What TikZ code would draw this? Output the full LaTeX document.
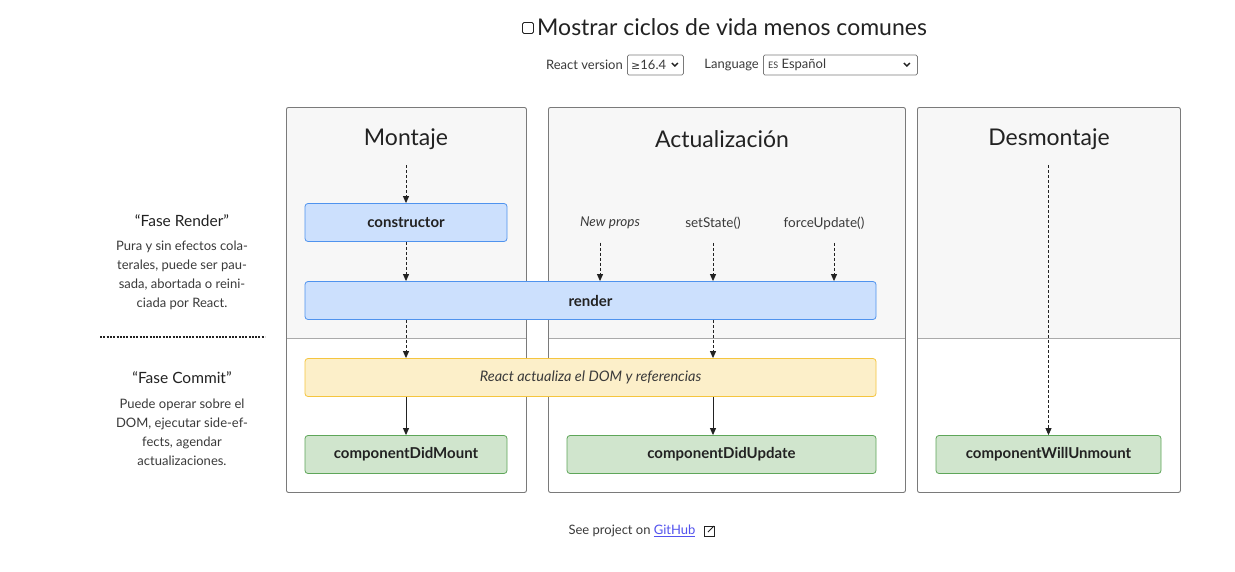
\documentclass[tikz,border=0pt]{standalone}
\usepackage{fontspec}
\setmainfont{Lato}
\newfontfamily\symfont{DejaVu Sans}
\usetikzlibrary{positioning,arrows.meta}

\definecolor{ink}{HTML}{222222}
\definecolor{softink}{HTML}{3a3a3a}
\definecolor{phasebg}{HTML}{F7F7F7}
\definecolor{phaseline}{HTML}{7A7A7A}
\definecolor{divline}{HTML}{AAAAAA}
\definecolor{renderbg}{HTML}{CCE0FD}
\definecolor{renderln}{HTML}{4F93EE}
\definecolor{commitbg}{HTML}{FCEFC9}
\definecolor{commitln}{HTML}{F5C53F}
\definecolor{mountbg}{HTML}{D0E5CD}
\definecolor{mountln}{HTML}{5EA659}
\definecolor{linkblue}{HTML}{5353EE}

\tikzset{
  phasebox/.style={draw=phaseline, line width=0.9pt, rounded corners=2pt, anchor=north west},
  heading/.style={font=\fontsize{23}{27}\selectfont, text=ink},
  rendbox/.style={draw=renderln, fill=renderbg, line width=0.8pt, rounded corners=3pt,
    minimum height=38, font=\bfseries\fontsize{15}{18}\selectfont, text=ink},
  commbox/.style={draw=commitln, fill=commitbg, line width=0.8pt, rounded corners=3pt,
    minimum height=38, font=\itshape\fontsize{14.5}{17}\selectfont, text=softink},
  donebox/.style={draw=mountln, fill=mountbg, line width=0.8pt, rounded corners=3pt,
    minimum height=38, font=\bfseries\fontsize{15}{18}\selectfont, text=ink},
  trigger/.style={font=\fontsize{13.5}{16}\selectfont, text=softink},
  sidehead/.style={font=\fontsize{15.5}{18}\selectfont, text=ink, align=center},
  sidetext/.style={font=\fontsize{13}{19}\selectfont, text=softink, align=center},
  small/.style={font=\fontsize{13}{15}\selectfont, text=softink},
  selbox/.style={draw=phaseline, line width=0.8pt, rounded corners=1.5pt, minimum height=20},
  flow/.style={-{Triangle[length=7pt,width=6pt]}, draw=ink, line width=0.9pt},
  lazy/.style={flow, dash pattern=on 3pt off 2pt},
  chev/.style={draw=ink, line width=1.4pt}
}

\begin{document}
\begin{tikzpicture}[x=1pt, y=-1pt]
  \useasboundingbox[fill=white] (0,0) rectangle (1235,571);

  % top controls
  \node[draw=ink, line width=0.8pt, rounded corners=1.5pt, minimum size=11, inner sep=0] (check) at (528,28) {};
  \node[heading, anchor=west, inner sep=0] (rare) at (537,27) {Mostrar ciclos de vida menos comunes};
  \node[small, anchor=east, inner sep=0] (version) at (623,65) {React version};
  \node[selbox, minimum width=56, anchor=west] (versel) at (627,65) {};
  \node[small, anchor=west, inner sep=0] at ([xshift=4]versel.west) {{\symfont\fontsize{11}{13}\selectfont ≥}16.4};
  \draw[chev] ([xshift=-12,yshift=2]versel.east) -- ++(3,3) -- ++(3,-3);
  \node[small, anchor=east, inner sep=0] (language) at (759,65) {Language};
  \node[selbox, minimum width=154, anchor=west] (langsel) at (763,65) {};
  \node[small, anchor=west, inner sep=0] at ([xshift=5]langsel.west) {{\fontsize{9}{11}\selectfont ES} Español};
  \draw[chev] ([xshift=-14,yshift=2]langsel.east) -- ++(3,3) -- ++(3,-3);

  % phase columns
  \foreach \l/\r/\nm in {286/526/mount,548/905/update,917/1180/unmount}{
    \fill[phasebg] (\l,107) rectangle (\r,338);
    \draw[divline, line width=0.8pt] (\l,338) -- (\r,338);
    \node[phasebox, minimum width=\r-\l, minimum height=385] (\nm) at (\l,107) {};
  }
  \node[heading] (mounttitle) at (406,139) {Montaje};
  \node[heading] (updatetitle) at (722,139) {Actualización};
  \node[heading] (unmounttitle) at (1049,139) {Desmontaje};

  % render phase
  \node[rendbox, minimum width=202] (ctor) at (406,222.5) {constructor};
  \node[rendbox, minimum width=571] (render) at (590.5,300.5) {render};
  \node[trigger, font=\itshape\fontsize{13.5}{16}\selectfont] (newprops) at (610,223) {New props};
  \node[trigger] (setstate) at (713,223) {setState()};
  \node[trigger] (force) at (824,223) {forceUpdate()};

  % commit phase
  \node[commbox, minimum width=571] (dom) at (590.5,377.5) {React actualiza el DOM y referencias};
  \node[donebox, minimum width=202] (didmount) at (406,454.5) {componentDidMount};
  \node[donebox, minimum width=309] (didupdate) at (721.5,454.5) {componentDidUpdate};
  \node[donebox, minimum width=225] (willunmount) at (1048.5,454.5) {componentWillUnmount};

  % arrows
  \coordinate (mstart) at (406,165);
  \coordinate (ustart) at (1048.5,165);
  \draw[lazy] (mstart) -- (ctor);
  \draw[lazy] (ctor.south) -- (ctor.south |- render.north);
  \draw[lazy] ([xshift=-10,yshift=-10]newprops.south) -- ([xshift=-10]newprops.south |- render.north);
  \draw[lazy] ([yshift=-10]setstate.south) -- (setstate.south |- render.north);
  \draw[lazy] ([xshift=10,yshift=-10]force.south) -- ([xshift=10]force.south |- render.north);
  \draw[lazy] (ctor.south |- render.south) -- (ctor.south |- dom.north);
  \draw[lazy] (setstate.south |- render.south) -- (setstate.south |- dom.north);
  \draw[flow] (ctor.south |- dom.south) -- (didmount);
  \draw[flow] (setstate.south |- dom.south) -- (setstate.south |- didupdate.north);
  \draw[lazy] (ustart) -- (willunmount);

  % side notes
  \node[sidehead] (rendhead) at (182,221) {“Fase Render”};
  \node[sidetext] (rendnote) at (182,275) {Pura y sin efectos cola-\\terales, puede ser pau-\\sada, abortada o reini-\\ciada por React.};
  \coordinate (sepl) at (100,337);
  \coordinate (sepr) at (265,337);
  \draw[ink, line width=2pt, dash pattern=on 2pt off 1.3pt] (sepl) -- (sepr);
  \node[sidehead] (commhead) at (182,378) {“Fase Commit”};
  \node[sidetext] (commnote) at (182,432) {Puede operar sobre el\\DOM, ejecutar side-ef-\\fects, agendar\\actualizaciones.};

  % footer
  \node[small] (footer) at (632,531) {See project on \textcolor{linkblue}{\underline{GitHub}}};
  \draw[ink, line width=1pt] (711,527) -- (711,526) -- (704,526) -- (704,536) -- (714,536) -- (714,529);
  \draw[ink, line width=1pt] (708,532) -- (714,526);
  \draw[ink, line width=1pt] (710,526) -- (714,526) -- (714,530);
\end{tikzpicture}
\end{document}
